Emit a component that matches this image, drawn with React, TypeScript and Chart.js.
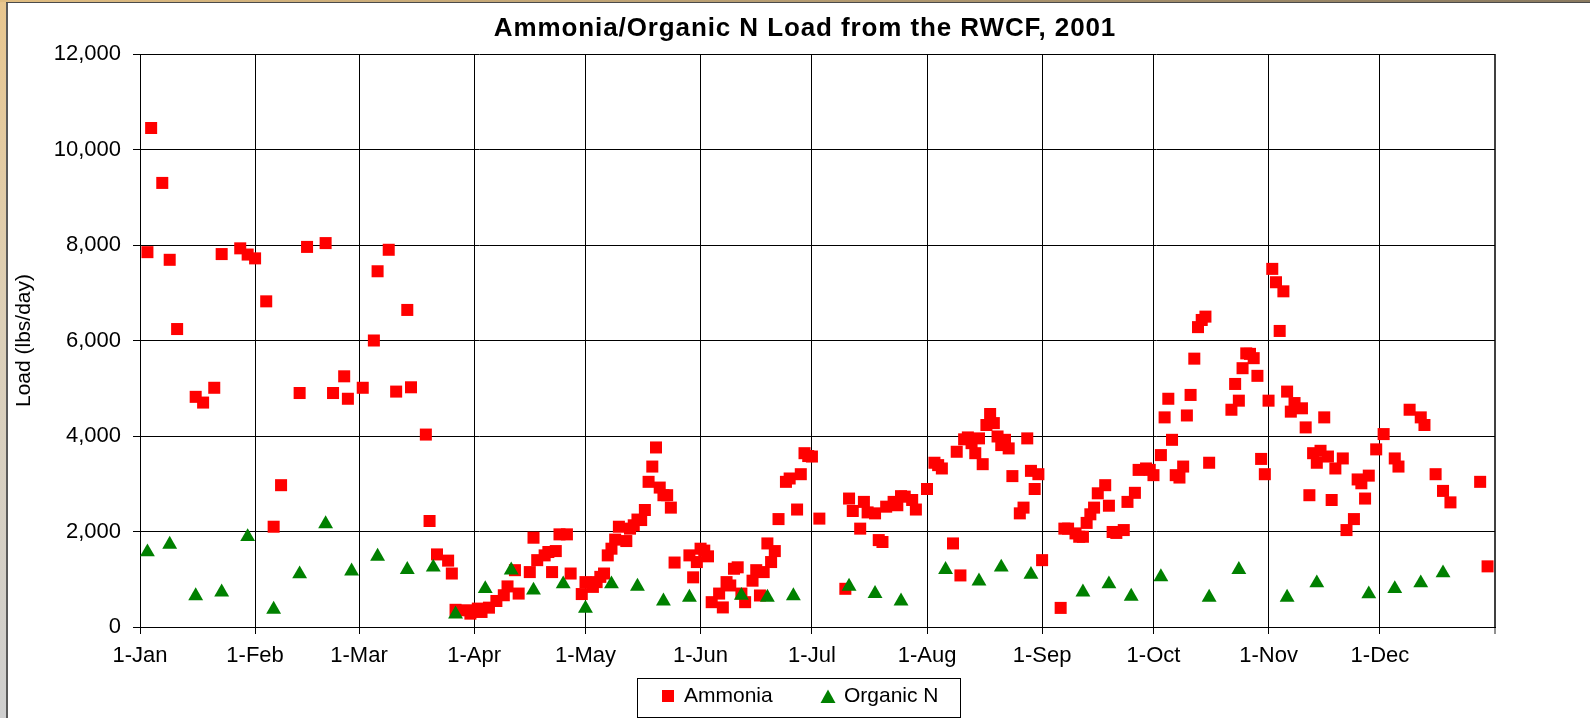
import React, { useEffect, useRef } from 'react';
import { Chart, registerables } from 'chart.js';

Chart.register(...registerables);

const TITLE = 'Ammonia/Organic N Load from the RWCF, 2001';
const Y_TITLE = 'Load (lbs/day)';
const FONT = '"Liberation Sans", Arial, Helvetica, sans-serif';

// x = day of year (0 = 1-Jan-2001)
const MONTH_TICKS = [0, 31, 59, 90, 120, 151, 181, 212, 243, 273, 304, 334, 365];
const MONTH_LABELS = ['1-Jan', '1-Feb', '1-Mar', '1-Apr', '1-May', '1-Jun', '1-Jul', '1-Aug', '1-Sep', '1-Oct', '1-Nov', '1-Dec', ''];
const Y_MIN = 0;
const Y_MAX = 12000;
const Y_STEP = 2000;

const ammoniaDays = [
  2, 3, 6, 8, 10, 15, 17, 20, 22, 27,
  29, 31, 34, 36, 38, 43, 45, 50, 52, 55,
  56, 60, 63, 64, 67, 69, 72, 73, 77, 78,
  80, 83, 84, 85, 88, 89, 91, 92, 94, 96,
  98, 99, 101, 102, 105, 106, 107, 109, 110, 111,
  112, 113, 115, 116, 119, 120, 122, 123, 124, 125,
  126, 127, 128, 129, 131, 132, 133, 134, 135, 136,
  137, 138, 139, 140, 141, 142, 143, 144, 148, 149,
  150, 151, 152, 153, 154, 156, 157, 158, 159, 160,
  161, 162, 163, 165, 166, 167, 168, 169, 170, 171,
  172, 174, 175, 177, 178, 179, 180, 181, 183, 190,
  191, 192, 194, 195, 196, 198, 199, 200, 201, 203,
  204, 205, 206, 208, 209, 212, 214, 215, 216, 219,
  220, 221, 222, 223, 224, 225, 226, 227, 228, 229,
  230, 231, 232, 233, 234, 235, 237, 238, 239, 240,
  241, 242, 243, 248, 249, 250, 252, 253, 254, 255,
  256, 257, 258, 260, 261, 262, 263, 265, 266, 268,
  269, 271, 272, 273, 275, 276, 277, 278, 279, 280,
  281, 282, 283, 284, 285, 286, 287, 288, 294, 295,
  296, 297, 298, 299, 300, 301, 302, 303, 304, 305,
  306, 307, 308, 309, 310, 311, 313, 314, 315, 316,
  317, 318, 319, 320, 321, 322, 324, 325, 327, 328,
  329, 330, 331, 333, 335, 338, 339, 342, 345, 346,
  349, 351, 353, 361, 363,
];
const ammoniaLoads = [
  7850, 10450, 9300, 7690, 6240, 4820, 4700, 5010, 7810, 7930,
  7800, 7720, 6820, 2100, 2970, 4900, 7960, 8040, 4900, 5250,
  4780, 5010, 6000, 7450, 7900, 4930, 6640, 5020, 4030, 2220,
  1520, 1390, 1120, 360, 350, 280, 385, 315, 405, 545,
  665, 850, 1190, 700, 1150, 1870, 1400, 1500, 1570, 1150,
  1590, 1940, 1940, 1120, 690, 940, 840, 940, 1050, 1120,
  1500, 1640, 1830, 2100, 1800, 2060, 2130, 2250, 2240, 2450,
  3040, 3360, 3760, 2920, 2760, 2760, 2500, 1350, 1500, 1040,
  1360, 1640, 1600, 1480, 520, 700, 410, 940, 870, 1220,
  1250, 700, 520, 970, 1190, 660, 1150, 1750, 1360, 1590,
  2260, 3040, 3110, 2460, 3200, 3640, 3580, 3570, 2270, 800,
  2690, 2430, 2060, 2620, 2400, 2380, 1820, 1780, 2520, 2620,
  2550, 2740, 2730, 2660, 2460, 2890, 3440, 3390, 3320, 1750,
  3670, 1080, 3930, 3970, 3850, 3640, 3950, 3410, 4230, 4460,
  4270, 3990, 3810, 3920, 3740, 3160, 2380, 2500, 3950, 3270,
  2890, 3200, 1400, 400, 2060, 2060, 1960, 1890, 1890, 2180,
  2360, 2500, 2800, 2970, 2540, 1990, 1970, 2030, 2620, 2810,
  3290, 3320, 3290, 3180, 3600, 4390, 4780, 3920, 3180, 3130,
  3360, 4430, 4860, 5620, 6280, 6430, 6500, 3440, 4550, 5090,
  4740, 5420, 5730, 5720, 5630, 5260, 3520, 3200, 4740, 7500,
  7220, 6200, 7030, 4930, 4510, 4690, 4580, 4180, 2760, 3640,
  3440, 3690, 4390, 3570, 2660, 3320, 3530, 2030, 2260, 3090,
  3010, 2690, 3170, 3720, 4040, 3530, 3360, 4550, 4390, 4230,
  3200, 2850, 2610, 3040, 1270,
];

const organicDays = [
  2, 8, 15, 22, 29, 36, 43, 50, 57, 64,
  72, 79, 85, 93, 100, 106, 114, 120, 127, 134,
  141, 148, 162, 169, 176, 191, 198, 205, 217, 226,
  232, 240, 254, 261, 267, 275, 288, 296, 309, 317,
  331, 338, 345, 351,
];
const organicLoads = [
  1570, 1730, 650, 730, 1890, 370, 1110, 2160, 1170, 1480,
  1200, 1250, 270, 800, 1190, 770, 900, 390, 900, 850,
  540, 620, 660, 620, 650, 850, 700, 540, 1200, 960,
  1250, 1100, 730, 900, 640, 1050, 620, 1200, 620, 920,
  690, 800, 920, 1130,
];

const AMMONIA_COLOR = '#FF0000';
const ORGANIC_COLOR = '#008000';

const W = 1590;
const H = 718;

const framePlugin = {
  id: 'frame',
  beforeDraw(chart: any) {
    const ctx = chart.ctx as CanvasRenderingContext2D;
    ctx.save();
    ctx.fillStyle = '#ffffff';
    ctx.fillRect(0, 0, W, H);
    // left strip
    const g = ctx.createLinearGradient(0, 0, 0, H);
    g.addColorStop(0, '#e8c68e');
    g.addColorStop(0.45, '#ddd0b8');
    g.addColorStop(1, '#cfcfcf');
    ctx.fillStyle = g;
    ctx.fillRect(0, 0, 6, H);
    // top strip
    const g2 = ctx.createLinearGradient(0, 0, W, 0);
    g2.addColorStop(0, '#e0bd82');
    g2.addColorStop(1, '#8a7a60');
    ctx.fillStyle = g2;
    ctx.fillRect(0, 0, W, 2);
    ctx.fillStyle = '#5a5a5a';
    ctx.fillRect(6, 2, 2, H - 2);
    ctx.fillStyle = '#4a4a4a';
    ctx.fillRect(6, 2, W - 6, 1);
    ctx.restore();
  },
  afterDraw(chart: any) {
    const ctx = chart.ctx as CanvasRenderingContext2D;
    const ds = chart.data.datasets;
    ctx.save();
    // title
    ctx.fillStyle = '#000';
    ctx.font = `bold 26px ${FONT}`;
    (ctx as any).letterSpacing = '0.9px';
    ctx.textAlign = 'center';
    ctx.textBaseline = 'alphabetic';
    ctx.fillText(TITLE, 805, 36);
    (ctx as any).letterSpacing = '0px';

    // legend
    ctx.strokeStyle = '#000';
    ctx.lineWidth = 1;
    ctx.strokeRect(637.5, 678.5, 323, 39);
    ctx.fillStyle = ds[0].backgroundColor;
    ctx.fillRect(662, 690, 12, 12);
    ctx.fillStyle = ds[1].backgroundColor;
    ctx.beginPath();
    ctx.moveTo(828, 689.5);
    ctx.lineTo(835.5, 703);
    ctx.lineTo(820.5, 703);
    ctx.closePath();
    ctx.fill();
    ctx.fillStyle = '#000';
    ctx.font = `21px ${FONT}`;
    ctx.textAlign = 'left';
    ctx.textBaseline = 'middle';
    ctx.fillText(ds[0].label, 684, 696);
    ctx.fillText(ds[1].label, 844, 696);
    ctx.restore();
  },
};

export default function App() {
  const ref = useRef<HTMLCanvasElement>(null);

  useEffect(() => {
    const canvas = ref.current;
    if (!canvas) return;
    Chart.defaults.font.family = FONT;
    Chart.defaults.color = '#000';

    const isEnd = (c: any) => c.tick && c.tick.value === 365;

    const chart = new Chart(canvas, {
      type: 'scatter',
      data: {
        datasets: [
          {
            label: 'Ammonia',
            data: ammoniaDays.map((d, i) => ({ x: d, y: ammoniaLoads[i] })),
            pointStyle: 'rect',
            pointRadius: 8.5,
            pointHoverRadius: 8.5,
            backgroundColor: AMMONIA_COLOR,
            borderColor: AMMONIA_COLOR,
            borderWidth: 0,
            order: 1,
          },
          {
            label: 'Organic N',
            data: organicDays.map((d, i) => ({ x: d, y: organicLoads[i] })),
            pointStyle: 'triangle',
            pointRadius: 8.6,
            pointHoverRadius: 8.6,
            backgroundColor: ORGANIC_COLOR,
            borderColor: ORGANIC_COLOR,
            borderWidth: 0,
            order: 0,
          },
        ],
      },
      plugins: [framePlugin],
      options: {
        responsive: false,
        animation: false,
        devicePixelRatio: 1,
        events: [],
        layout: { padding: { left: 0, right: 95, top: 54, bottom: 0 } },
        plugins: {
          legend: { display: false },
          title: { display: false },
          tooltip: { enabled: false },
        },
        scales: {
          x: {
            type: 'linear',
            position: 'bottom',
            min: 0,
            max: 365,
            afterBuildTicks: (axis: any) => {
              axis.ticks = MONTH_TICKS.map((v) => ({ value: v }));
            },
            afterFit: (axis: any) => {
              axis.height = 91;
            },
            ticks: {
              autoSkip: false,
              maxRotation: 0,
              minRotation: 0,
              padding: 9,
              color: '#000',
              font: { size: 22, family: FONT },
              callback: (value: any) => {
                const i = MONTH_TICKS.indexOf(Number(value));
                return i >= 0 ? MONTH_LABELS[i] : '';
              },
            },
            grid: {
              color: (c: any) => (isEnd(c) ? '#404040' : '#000'),
              lineWidth: (c: any) => (isEnd(c) ? 2 : 1),
              tickColor: (c: any) => (isEnd(c) ? '#909090' : '#000'),
              tickLength: 7,
              drawTicks: true,
            },
            border: { display: true, color: '#000', width: 1 },
          },
          y: {
            type: 'linear',
            min: Y_MIN,
            max: Y_MAX,
            afterFit: (axis: any) => {
              axis.width = 140;
            },
            ticks: {
              stepSize: Y_STEP,
              padding: 12,
              color: '#000',
              font: { size: 22, family: FONT },
              callback: (value: any) => Number(value).toLocaleString('en-US'),
            },
            grid: {
              color: '#000',
              lineWidth: 1,
              tickColor: '#000',
              tickLength: 7,
            },
            border: { display: true, color: '#000', width: 1 },
            title: {
              display: true,
              text: Y_TITLE,
              color: '#000',
              font: { size: 21, family: FONT },
              padding: { top: 12, bottom: 0 },
            },
          },
        },
      },
    } as any);

    return () => chart.destroy();
  }, []);

  return (
    <div style={{ position: 'fixed', left: 0, top: 0, width: W, height: H, background: '#fff' }}>
      <canvas ref={ref} width={W} height={H} style={{ display: 'block', width: W, height: H }} />
    </div>
  );
}
